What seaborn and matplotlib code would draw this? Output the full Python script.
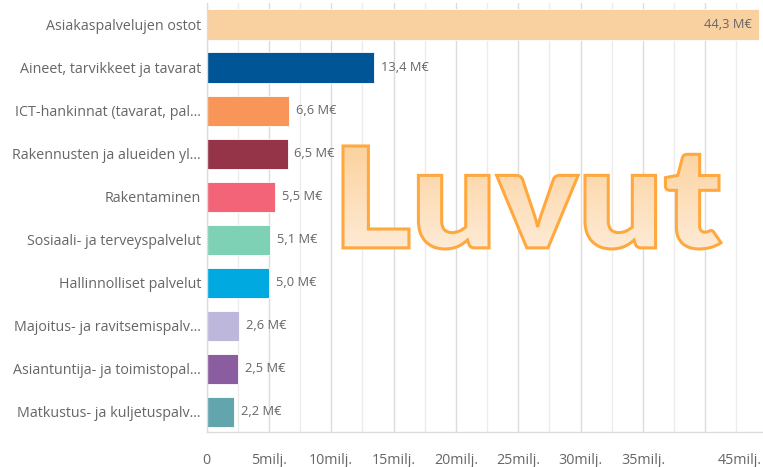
import matplotlib
matplotlib.use("Agg")
import matplotlib.pyplot as plt
import seaborn as sns
import numpy as np
import pandas as pd
from matplotlib.textpath import TextPath
from matplotlib.font_manager import FontProperties
from matplotlib.patches import PathPatch
from matplotlib.transforms import Affine2D

# data
categories = [
    "Asiakaspalvelujen ostot",
    "Aineet, tarvikkeet ja tavarat",
    "ICT-hankinnat (tavarat, pal...",
    "Rakennusten ja alueiden yl...",
    "Rakentaminen",
    "Sosiaali- ja terveyspalvelut",
    "Hallinnolliset palvelut",
    "Majoitus- ja ravitsemispalv...",
    "Asiantuntija- ja toimistopal...",
    "Matkustus- ja kuljetuspalv...",
]
values = [44.3, 13.4, 6.6, 6.5, 5.5, 5.1, 5.0, 2.6, 2.5, 2.2]
colors = ["#F9D0A0", "#005596", "#F79658", "#953449", "#F36478",
          "#7FD1B5", "#00A9E0", "#BDB7DB", "#8A5CA0", "#62A5AD"]
tick_values = [0, 5, 10, 15, 20, 25, 30, 35]
tick_labels = ["0", "5milj.", "10milj.", "15milj.", "20milj.", "25milj.", "30milj.", "35milj."]

df = pd.DataFrame({"kategoria": categories, "arvo": values})

sns.set_style("white")
plt.rcParams["font.family"] = ["Open Sans", "DejaVu Sans"]
txt = "#666666"

fig = plt.figure(figsize=(7.63, 4.67), dpi=100)
ax = fig.add_axes([206.5 / 763, 35 / 467, 1 - 206.5 / 763, 429 / 467])

sns.barplot(data=df, x="arvo", y="kategoria", hue="kategoria", palette=colors,
            orient="h", width=0.7, legend=False, ax=ax, saturation=1,
            edgecolor="white", linewidth=0.6)

ax.set_xlim(0, (763 - 206.5) / 12.47)
ax.set_ylim(9.47, -0.5)
ax.set_xlabel("")
ax.set_ylabel("")

# grid: major every 5, minor in between
ax.set_xticks(tick_values + [40])
ax.set_xticklabels(tick_labels + [""])
ax.set_xticks(np.arange(2.5, 45, 5), minor=True)
ax.set_axisbelow(True)
ax.grid(axis="x", which="major", color="#dcdcdc", linewidth=1)
ax.grid(axis="x", which="minor", color="#ececec", linewidth=1)
ax.tick_params(axis="x", which="major", length=7, color="#dcdcdc", labelsize=10.3,
               labelcolor=txt, pad=8)
ax.tick_params(axis="x", which="minor", length=0)
ax.xaxis.get_major_ticks()[8].tick1line.set_visible(False)
ax.tick_params(axis="y", length=0, labelsize=10.3, labelcolor=txt, pad=4)

for side in ["top", "right"]:
    ax.spines[side].set_visible(False)
for side in ["left", "bottom"]:
    ax.spines[side].set_color("#dcdcdc")
    ax.spines[side].set_linewidth(1)

# 45milj. label squeezed in at the right edge
fig.text(762 / 763, 1 - 460 / 467, "45milj.", fontsize=10.3, color=txt,
         ha="right", va="center")

# value labels
for i, cont in enumerate(ax.containers):
    lab = f"{values[i]:.1f}".replace(".", ",") + " M€"
    if i == 0:
        ax.text(values[i], i, lab + "  ", ha="right", va="center", fontsize=9.3, color=txt)
    else:
        ax.bar_label(cont, labels=[lab], padding=5, color=txt, fontsize=9.3)

# watermark "Luvut": outlined text with a vertical peach gradient
ov = fig.add_axes([0, 0, 1, 1], zorder=10)
ov.set_xlim(0, 763)
ov.set_ylim(467, 0)
ov.axis("off")
tp = TextPath((0, 0), "Luvut", size=100, prop=FontProperties(family="Lato", weight="heavy"))
ext = tp.get_extents()
x0, x1, y0, y1 = 343, 721, 146, 249
tr = (Affine2D().translate(-ext.x0, -ext.y0)
      .scale((x1 - x0) / ext.width, -(y1 - y0) / ext.height)
      .translate(x0, y1))
path = tr.transform_path(tp)
grad = np.linspace(0, 1, 256).reshape(-1, 1)
top = np.array([252, 209, 156]) / 255
bot = np.array([254, 236, 216]) / 255
img = top + (bot - top) * grad[..., None]
im = ov.imshow(img, extent=[x0 - 5, x1 + 5, y1 + 5, y0 - 5], aspect="auto", zorder=1)
im.set_clip_path(PathPatch(path, transform=ov.transData))
ov.add_patch(PathPatch(path, facecolor="none", edgecolor="#FFA83E", linewidth=2.2, zorder=2))
ov.set_xlim(0, 763)
ov.set_ylim(467, 0)

fig.savefig("out.png", dpi=100)
